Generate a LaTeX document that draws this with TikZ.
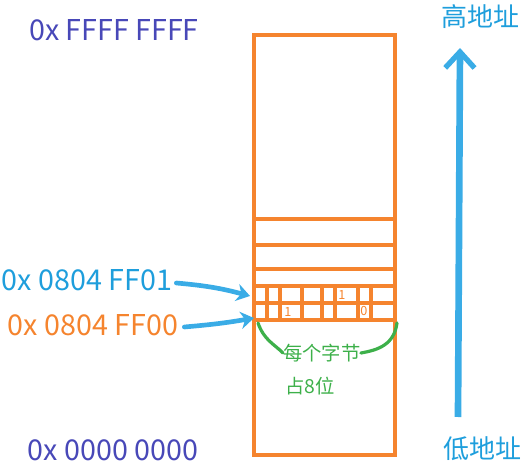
\documentclass[tikz,border=0pt]{standalone}
\usepackage{fontspec}
\setmainfont{Noto Sans CJK SC}
\usetikzlibrary{arrows.meta}
\definecolor{memorange}{HTML}{F5842E}
\definecolor{addrpurple}{HTML}{4848B8}
\definecolor{addrblue}{HTML}{1E9EDC}
\definecolor{arrowblue}{HTML}{3AACE6}
\definecolor{notegreen}{HTML}{3DB04A}
\begin{document}
\begin{tikzpicture}[x=0.75pt,y=-0.75pt]

\tikzset{
  addr label/.style={
    inner sep=0pt,
    font=\fontsize{21.5}{24}\selectfont,
  },
  end label/.style={
    inner sep=0pt,
    text=addrblue,
    font=\fontsize{19.5}{24}\selectfont,
  },
  mem line/.style={draw=memorange, line width=3pt},
  bit label/.style={inner sep=0pt, text=memorange, font=\fontsize{9.5}{10}\selectfont},
  note label/.style={inner sep=0pt, anchor=west, text=notegreen, font=\fontsize{14.5}{17}\selectfont},
  brush arrow/.style={draw=arrowblue, line width=3.5pt, line cap=round,
    -{Stealth[length=10pt,width=13pt]}},
  brace line/.style={draw=notegreen, line width=2.4pt, line cap=round},
}

\useasboundingbox (0,0) rectangle (532,470);

% Memory block
\draw[mem line] (254,35) rectangle (395,455);

% Byte rows
\draw[mem line] (254,219) -- (395,219);
\draw[mem line] (254,245) -- (395,245);
\draw[mem line] (254,269) -- (395,269);
\draw[mem line] (254,286) -- (395,286);
\draw[mem line] (254,303) -- (395,303);
\draw[mem line] (254,320) -- (395,320);

% Bit cells of the two lowest bytes
\draw[mem line] (267,286) -- (267,320);
\draw[mem line] (280,286) -- (280,320);
\draw[mem line] (302,286) -- (302,320);
\draw[mem line] (322,286) -- (322,320);
\draw[mem line] (335,286) -- (335,320);
\draw[mem line] (358,286) -- (358,320);
\draw[mem line] (371,286) -- (371,320);

\node[bit label] (bit1a) at (342,295) {1};
\node[bit label] (bit1b) at (288,312) {1};
\node[bit label] (bit0)  at (364,311) {0};

% Address labels
\node[addr label, text=addrpurple] (ffff) at (114,30)  {0x FFFF FFFF};
\node[addr label, text=addrblue]   (ff01) at (87,280)  {0x 0804 FF01};
\node[addr label, text=memorange]  (ff00) at (93,325)  {0x 0804 FF00};
\node[addr label, text=addrpurple] (zero) at (113,450) {0x 0000 0000};

% Direction labels
\node[end label] (high) at (480,17)  {高地址};
\node[end label] (low)  at (482,449) {低地址};

% Arrows
\coordinate (c01) at (250,296);
\coordinate (c00) at (254,318);
\coordinate (ubot) at (458,417);
\coordinate (utop) at (460,48);

\draw[brush arrow] (ff01.east) ++(4,3) to[out=-5,in=165] (c01);
\draw[brush arrow] (ff00.east) ++(6,2) to[out=5,in=190] (c00);
\draw[draw=arrowblue, line width=5pt,
  -{Straight Barb[length=12pt,width=22pt,line width=4pt]}] (ubot) -- (utop);

% Byte note
\node[note label] (note1) at (283,353) {每个字节};
\node[note label] (note2) at (285,386) {占8位};

\coordinate (bl) at (258,323);
\coordinate (br) at (397,323);
\draw[brace line] (bl) .. controls (264,340) and (274,344) .. (note1.west);
\draw[brace line] (note1.east) .. controls (378,350) and (394,345) .. (br);

\end{tikzpicture}
\end{document}
